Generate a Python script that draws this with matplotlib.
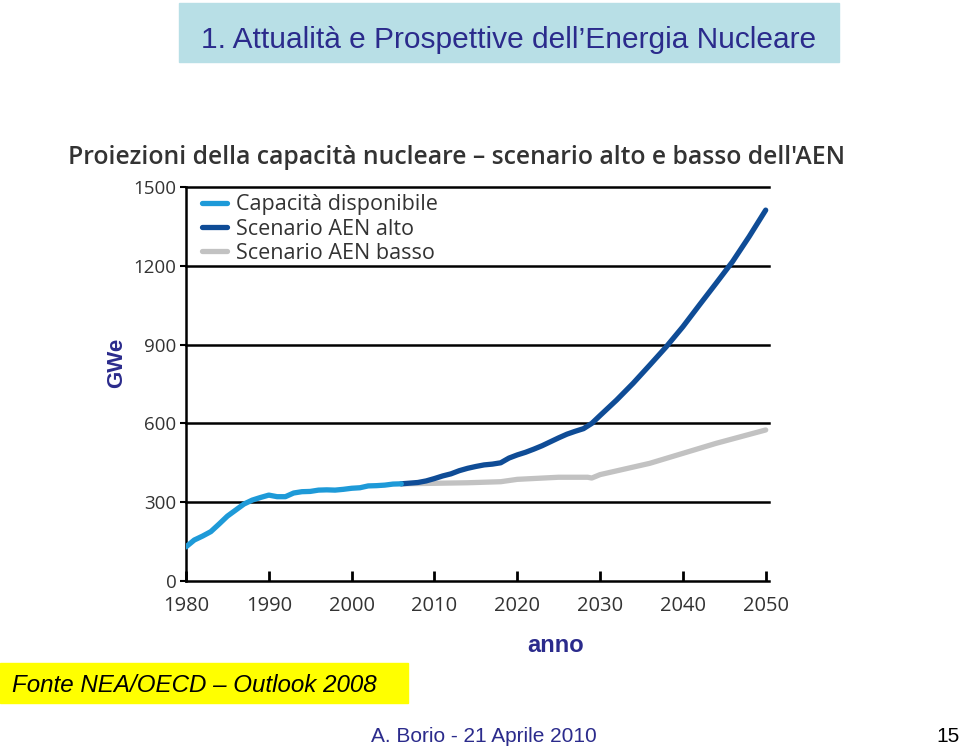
import matplotlib
matplotlib.use("Agg")
import matplotlib.pyplot as plt
from matplotlib.patches import Rectangle

# Capacità disponibile (storico)
anni_storico = [1980, 1981, 1982, 1983, 1984, 1985, 1986, 1987, 1988, 1989,
                1990, 1991, 1992, 1993, 1994, 1995, 1996, 1997, 1998, 1999,
                2000, 2001, 2002, 2003, 2004, 2005, 2006]
cap_storico = [130, 156, 171, 188, 217, 247, 270, 293, 308, 318,
               327, 321, 321, 335, 340, 341, 346, 347, 346, 349,
               353, 355, 362, 363, 365, 369, 370]

# Scenario AEN alto
anni_alto = [2006, 2008, 2009, 2010, 2011, 2012, 2013, 2014, 2015, 2016,
             2017, 2018, 2019, 2020, 2021, 2022, 2023, 2024, 2025, 2026,
             2027, 2028, 2029, 2030, 2032, 2034, 2036, 2038, 2040, 2042,
             2044, 2046, 2048, 2050]
cap_alto = [370, 375, 381, 390, 400, 408, 420, 429, 436, 442,
            445, 450, 468, 480, 490, 502, 515, 530, 545, 559,
            570, 580, 600, 630, 689, 753, 822, 892, 968, 1051,
            1133, 1216, 1311, 1412]

# Scenario AEN basso
anni_basso = [2006, 2010, 2014, 2018, 2020, 2025, 2028.5, 2029, 2030, 2036,
              2040, 2044, 2050]
cap_basso = [370, 372, 374, 378, 387, 395, 395, 392, 405, 448,
             486, 524, 575]

xticks = [1980, 1990, 2000, 2010, 2020, 2030, 2040, 2050]
yticks = [0, 300, 600, 900, 1200, 1500]

W, H = 960, 752
fig = plt.figure(figsize=(W / 100, H / 100), dpi=100, facecolor='white')

blu_testo = '#2b2b8c'
font_grafico = 'Open Sans'

def px(x0, y0, x1, y1):
    # pixel box -> figure fraction [left, bottom, width, height]
    return [x0 / W, 1 - y1 / H, (x1 - x0) / W, (y1 - y0) / H]

# slide title bar
fig.patches.append(Rectangle((179 / W, 1 - 62 / H), 660 / W, 59 / H,
                             transform=fig.transFigure, color='#b8dfe6', zorder=0))
fig.text(509 / W, 1 - 40 / H, "1. Attualità e Prospettive dell\u2019Energia Nucleare",
         ha='center', va='center', fontsize=21.5, color=blu_testo,
         family='Liberation Sans')

# chart title
fig.text(68 / W, 1 - 158 / H,
         "Proiezioni della capacità nucleare \u2013 scenario alto e basso dell'AEN",
         ha='left', va='center', fontsize=17.8, color='#333333',
         family=font_grafico, fontweight='semibold')

ax = fig.add_axes(px(186, 187, 769, 581))
ax.plot(anni_basso, cap_basso, color='#c2c2c2', lw=3.8, solid_capstyle='round',
        label='Scenario AEN basso', zorder=3)
ax.plot(anni_alto, cap_alto, color='#0f4c96', lw=3.8, solid_capstyle='round',
        label='Scenario AEN alto', zorder=4)
ax.plot(anni_storico, cap_storico, color='#1e9ad8', lw=3.8, solid_capstyle='round',
        label='Capacità disponibile', zorder=5)

ax.set_xlim(1980, 2050.4)
ax.set_ylim(0, 1500)
ax.set_xticks(xticks)
ax.set_yticks(yticks)
ax.tick_params(axis='x', direction='in', length=7, width=2, pad=11,
               labelsize=14.5, labelcolor='#333333')
ax.tick_params(axis='y', direction='out', length=4, width=1.5, pad=3,
               labelsize=13.5, labelcolor='#333333')
for lab in ax.get_xticklabels() + ax.get_yticklabels():
    lab.set_family(font_grafico)
for yv in yticks[1:]:
    ax.axhline(yv, color='black', lw=1.8, zorder=1, clip_on=False)
for s in ('top', 'right'):
    ax.spines[s].set_visible(False)
ax.spines['left'].set_linewidth(1.8)
ax.spines['bottom'].set_linewidth(1.8)

h, l = ax.get_legend_handles_labels()
leg = ax.legend(h[::-1], l[::-1], loc='upper left', bbox_to_anchor=(0.012, 1.003),
                frameon=False, handlelength=1.2, handletextpad=0.4,
                labelspacing=0.15, borderaxespad=0,
                prop={'family': font_grafico, 'size': 15.5})
for t in leg.get_texts():
    t.set_color('#333333')

fig.text(117 / W, 1 - 363 / H, 'GWe', rotation=90, ha='center', va='center',
         fontsize=16, fontweight='bold', color=blu_testo, family='Liberation Sans')
fig.text(556 / W, 1 - 645 / H, 'anno', ha='center', va='center',
         fontsize=17, fontweight='bold', color=blu_testo, family='Liberation Sans')

# source box
fig.patches.append(Rectangle((0, 1 - 703 / H), 408 / W, 40 / H,
                             transform=fig.transFigure, color='#ffff00', zorder=0))
fig.text(12 / W, 1 - 685 / H, 'Fonte NEA/OECD \u2013 Outlook 2008', ha='left',
         va='center', fontsize=17.4, style='italic', color='black',
         family='Liberation Sans')

fig.text(484 / W, 1 - 737 / H, 'A. Borio - 21 Aprile 2010', ha='center', va='center',
         fontsize=15, color=blu_testo, family='Liberation Sans')
fig.text(948 / W, 1 - 737 / H, '15', ha='center', va='center',
         fontsize=15, color='black', family='Liberation Sans')

fig.savefig('out.png', dpi=100, facecolor='white')
